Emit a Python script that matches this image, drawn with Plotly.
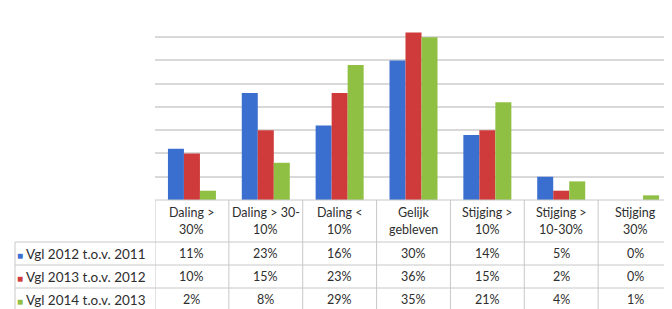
import plotly.graph_objects as go

categories = ["Daling > 30%", "Daling > 30-10%", "Daling < 10%", "Gelijk gebleven",
              "Stijging > 10%", "Stijging > 10-30%", "Stijging 30%"]
header_line1 = ["Daling >", "Daling > 30-", "Daling <", "Gelijk", "Stijging >", "Stijging >", "Stijging"]
header_line2 = ["30%", "10%", "10%", "gebleven", "10%", "10-30%", "30%"]
series_names = ["Vgl 2012 t.o.v. 2011", "Vgl 2013 t.o.v. 2012", "Vgl 2014 t.o.v. 2013"]
vgl_2012 = [11, 23, 16, 30, 14, 5, 0]
vgl_2013 = [10, 15, 23, 36, 15, 2, 0]
vgl_2014 = [2, 8, 29, 35, 21, 4, 1]
series_values = [vgl_2012, vgl_2013, vgl_2014]
colors = ["#3b6fcf", "#cf3b3b", "#8fc043"]

# page body has an 8px default margin; work in page pixels and compensate
OFF = 8
PAGE_W, PAGE_H = 672, 309
W, H = PAGE_W - OFF, PAGE_H - OFF
plot_left_pg, plot_top_pg, base_pg = 155, 13, 200
L = plot_left_pg - OFF
T = plot_top_pg - OFF
B = H - (base_pg - OFF)
R = 0
plot_w = W - L - R
plot_h = H - T - B


def py2p(py_page):
    return (base_pg - py_page) / plot_h


def px2p(px_page):
    return (px_page - plot_left_pg) / plot_w


FONT = "Lato"
TXT = "#2e2e2e"
LINE = "#c8c8c8"

fig = go.Figure()
xs = list(range(len(categories)))
for name, vals, col in zip(series_names, series_values, colors):
    fig.add_trace(go.Bar(x=xs, y=vals, name=name, marker=dict(color=col, line=dict(width=0))))

shapes = []
annotations = []

header_top = 200
row_lines = [242, 265, 288, 311]
table_left_px = 15

shapes.append(dict(type="line", xref="paper", yref="paper", x0=0, x1=1,
                   y0=py2p(header_top), y1=py2p(header_top), line=dict(color=LINE, width=1)))
for ry in row_lines:
    shapes.append(dict(type="line", xref="paper", yref="paper", x0=px2p(table_left_px), x1=1,
                       y0=py2p(ry), y1=py2p(ry), line=dict(color=LINE, width=1)))
for i in range(len(categories) + 1):
    shapes.append(dict(type="line", xref="x", yref="paper", x0=i - 0.5, x1=i - 0.5,
                       y0=py2p(header_top), y1=py2p(row_lines[-1]), line=dict(color=LINE, width=1)))
shapes.append(dict(type="line", xref="paper", yref="paper", x0=px2p(table_left_px), x1=px2p(table_left_px),
                   y0=py2p(row_lines[0]), y1=py2p(row_lines[-1]), line=dict(color=LINE, width=1)))

fs = 12.5
for i, (h1, h2) in enumerate(zip(header_line1, header_line2)):
    annotations.append(dict(x=i, y=py2p(212), xref="x", yref="paper", text=h1, showarrow=False,
                            xanchor="center", yanchor="middle", font=dict(family=FONT, size=fs, color=TXT)))
    annotations.append(dict(x=i, y=py2p(229.5), xref="x", yref="paper", text=h2, showarrow=False,
                            xanchor="center", yanchor="middle", font=dict(family=FONT, size=fs, color=TXT)))

for r, (name, vals, col) in enumerate(zip(series_names, series_values, colors)):
    cy = (row_lines[r] + row_lines[r + 1]) / 2
    annotations.append(dict(x=px2p(15), y=py2p(cy), xref="paper", yref="paper",
                            text=f"<span style='color:{col};font-size:10px'>■</span> {name}", showarrow=False,
                            xanchor="left", yanchor="middle", font=dict(family=FONT, size=13.5, color=TXT)))
    for i, v in enumerate(vals):
        annotations.append(dict(x=i, y=py2p(cy), xref="x", yref="paper", text=f"{v}%", showarrow=False,
                                xanchor="center", yanchor="middle", font=dict(family=FONT, size=fs, color=TXT)))

fig.update_layout(
    width=W, height=H,
    margin=dict(l=L, r=R, t=T, b=B),
    paper_bgcolor="white", plot_bgcolor="white",
    barmode="group", bargap=0.35, bargroupgap=0,
    showlegend=False,
    xaxis=dict(range=[-0.5, 6.5], showticklabels=False, showgrid=False, zeroline=False, ticks=""),
    yaxis=dict(range=[0, 40.2], dtick=5, showticklabels=False, showgrid=True, gridcolor="#d9d9d9",
               gridwidth=1.5, zeroline=False, ticks=""),
    shapes=shapes,
    annotations=annotations,
)

fig.write_html("out.html")
